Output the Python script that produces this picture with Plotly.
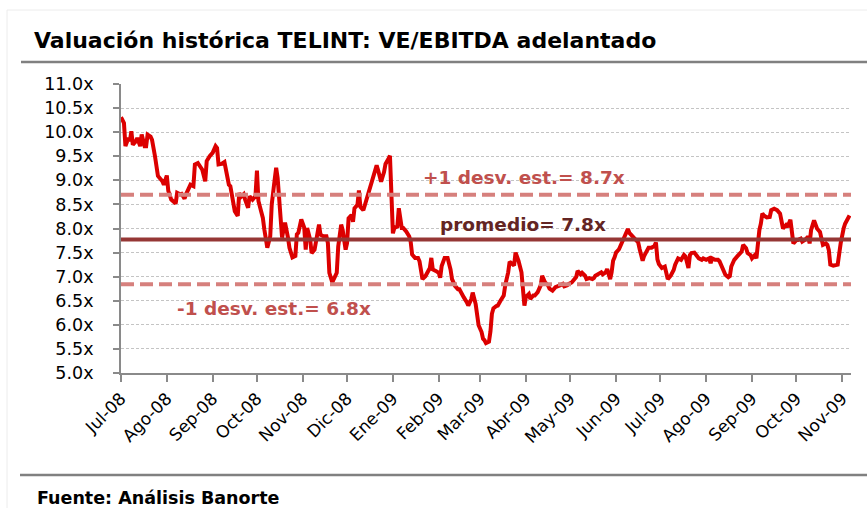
import plotly.graph_objects as go

# Forward EV/EBITDA multiple for TELINT, Jul-2008 .. Nov-2009
dates = [
    "2008-07-01", "2008-07-03", "2008-07-04", "2008-07-06", "2008-07-07", "2008-07-08", "2008-07-09",
    "2008-07-11", "2008-07-12", "2008-07-14", "2008-07-15", "2008-07-17", "2008-07-18", "2008-07-19",
    "2008-07-21", "2008-07-22", "2008-07-24", "2008-07-25", "2008-07-26", "2008-07-29", "2008-07-30",
    "2008-08-01", "2008-08-02", "2008-08-04", "2008-08-07", "2008-08-08", "2008-08-10", "2008-08-11",
    "2008-08-13", "2008-08-14", "2008-08-16", "2008-08-17", "2008-08-19", "2008-08-20", "2008-08-22",
    "2008-08-24", "2008-08-25", "2008-08-27", "2008-08-28", "2008-08-30",
    "2008-09-01", "2008-09-03", "2008-09-04", "2008-09-05", "2008-09-07", "2008-09-09", "2008-09-11",
    "2008-09-12", "2008-09-13", "2008-09-15", "2008-09-16", "2008-09-18", "2008-09-19", "2008-09-20",
    "2008-09-22", "2008-09-23", "2008-09-25", "2008-09-26", "2008-09-28", "2008-09-30",
    "2008-10-01", "2008-10-02", "2008-10-03", "2008-10-05", "2008-10-06", "2008-10-08", "2008-10-10",
    "2008-10-11", "2008-10-13", "2008-10-14", "2008-10-15", "2008-10-17", "2008-10-18", "2008-10-19",
    "2008-10-20", "2008-10-22", "2008-10-23", "2008-10-25", "2008-10-27", "2008-10-28", "2008-10-29",
    "2008-10-31",
    "2008-11-02", "2008-11-03", "2008-11-04", "2008-11-06", "2008-11-07", "2008-11-09", "2008-11-10",
    "2008-11-12", "2008-11-13", "2008-11-15", "2008-11-17", "2008-11-18", "2008-11-19", "2008-11-21",
    "2008-11-22", "2008-11-24", "2008-11-25", "2008-11-27", "2008-11-28", "2008-11-30",
    "2008-12-01", "2008-12-02", "2008-12-04", "2008-12-05", "2008-12-06", "2008-12-08", "2008-12-09",
    "2008-12-10", "2008-12-12", "2008-12-14", "2008-12-15", "2008-12-17", "2008-12-19", "2008-12-21",
    "2008-12-22", "2008-12-24", "2008-12-26", "2008-12-27", "2008-12-29", "2008-12-30",
    "2009-01-01", "2009-01-02", "2009-01-04", "2009-01-05", "2009-01-07", "2009-01-08", "2009-01-10",
    "2009-01-12", "2009-01-13", "2009-01-14", "2009-01-16", "2009-01-18", "2009-01-19", "2009-01-21",
    "2009-01-23", "2009-01-25", "2009-01-26", "2009-01-27", "2009-01-28", "2009-01-30",
    "2009-02-01", "2009-02-02", "2009-02-03", "2009-02-05", "2009-02-07", "2009-02-09", "2009-02-10",
    "2009-02-12", "2009-02-14", "2009-02-15", "2009-02-17", "2009-02-18", "2009-02-20", "2009-02-21",
    "2009-02-23", "2009-02-24", "2009-02-26", "2009-02-27", "2009-02-28",
    "2009-03-02", "2009-03-03", "2009-03-04", "2009-03-05", "2009-03-07", "2009-03-08", "2009-03-09",
    "2009-03-10", "2009-03-12", "2009-03-13", "2009-03-15", "2009-03-17", "2009-03-18", "2009-03-19",
    "2009-03-20", "2009-03-21", "2009-03-22", "2009-03-24", "2009-03-25", "2009-03-27", "2009-03-29",
    "2009-03-30", "2009-03-31",
    "2009-04-01", "2009-04-03", "2009-04-04", "2009-04-06", "2009-04-07", "2009-04-09", "2009-04-11",
    "2009-04-12", "2009-04-14", "2009-04-16", "2009-04-17", "2009-04-19", "2009-04-21", "2009-04-23",
    "2009-04-24", "2009-04-26", "2009-04-27", "2009-04-29", "2009-04-30",
    "2009-05-02", "2009-05-04", "2009-05-05", "2009-05-06", "2009-05-08", "2009-05-09", "2009-05-11",
    "2009-05-12", "2009-05-14", "2009-05-16", "2009-05-17", "2009-05-18", "2009-05-20", "2009-05-22",
    "2009-05-23", "2009-05-25", "2009-05-26", "2009-05-28", "2009-05-29", "2009-05-30", "2009-05-31",
    "2009-06-01", "2009-06-03", "2009-06-04", "2009-06-06", "2009-06-08", "2009-06-09", "2009-06-10",
    "2009-06-12", "2009-06-14", "2009-06-16", "2009-06-17", "2009-06-19", "2009-06-20", "2009-06-22",
    "2009-06-23", "2009-06-25", "2009-06-27", "2009-06-28", "2009-06-29", "2009-06-30",
    "2009-07-02", "2009-07-04", "2009-07-05", "2009-07-06", "2009-07-08", "2009-07-10", "2009-07-11",
    "2009-07-13", "2009-07-15", "2009-07-17", "2009-07-18", "2009-07-20", "2009-07-21", "2009-07-22",
    "2009-07-24", "2009-07-26", "2009-07-27", "2009-07-29", "2009-07-30",
    "2009-08-01", "2009-08-03", "2009-08-04", "2009-08-05", "2009-08-07", "2009-08-09", "2009-08-10",
    "2009-08-11", "2009-08-13", "2009-08-14", "2009-08-16", "2009-08-17", "2009-08-18", "2009-08-20",
    "2009-08-22", "2009-08-23", "2009-08-25", "2009-08-26", "2009-08-28", "2009-08-29", "2009-08-31",
    "2009-09-01", "2009-09-03", "2009-09-04", "2009-09-05", "2009-09-06", "2009-09-07", "2009-09-08",
    "2009-09-09", "2009-09-11", "2009-09-13", "2009-09-14", "2009-09-16", "2009-09-17", "2009-09-18",
    "2009-09-20", "2009-09-21", "2009-09-22", "2009-09-24", "2009-09-25", "2009-09-27", "2009-09-28",
    "2009-09-29",
    "2009-10-01", "2009-10-02", "2009-10-04", "2009-10-05", "2009-10-07", "2009-10-09", "2009-10-10",
    "2009-10-11", "2009-10-13", "2009-10-14", "2009-10-15", "2009-10-17", "2009-10-18", "2009-10-19",
    "2009-10-21", "2009-10-22", "2009-10-23", "2009-10-24", "2009-10-26", "2009-10-28", "2009-10-29",
    "2009-10-31",
    "2009-11-01", "2009-11-02", "2009-11-03", "2009-11-05", "2009-11-06",
]

ev_ebitda = [
    10.31, 10.19, 9.71, 9.88, 9.81, 10.02, 9.74,
    9.81, 9.88, 9.71, 9.95, 9.71, 9.71, 9.95,
    9.91, 9.84, 9.50, 9.19, 9.09, 8.98, 8.91,
    9.10, 8.78, 8.60, 8.52, 8.74, 8.71, 8.72,
    8.62, 8.71, 8.88, 8.91, 8.88, 9.33, 9.36,
    9.26, 9.22, 8.98, 9.40, 9.50,
    9.57, 9.71, 9.67, 9.33, 9.34, 9.38, 9.12,
    8.91, 8.88, 8.57, 8.36, 8.26, 8.74, 8.65,
    8.71, 8.60, 8.43, 8.67, 8.60, 8.67,
    9.20, 8.57, 8.43, 8.22, 7.98, 7.60, 7.84,
    8.50, 9.02, 9.26, 9.05, 8.22, 7.81, 7.98,
    8.12, 7.81, 7.60, 7.40, 7.43, 7.88, 7.91,
    8.19,
    8.02, 7.56, 8.01, 7.77, 7.49, 7.56, 7.77,
    8.08, 7.87, 7.84, 7.84, 7.70, 7.08, 6.88,
    6.95, 7.08, 7.63, 8.08, 7.97, 7.56,
    7.70, 8.21, 8.28, 8.14, 8.42, 8.49, 8.79,
    8.45, 8.38, 8.59, 8.69, 8.93, 9.17, 9.31,
    9.21, 8.97, 9.17, 9.34, 9.45, 9.51,
    7.90, 8.01, 8.04, 8.42, 8.01, 8.01, 7.94,
    7.84, 7.73, 7.46, 7.39, 7.39, 7.32, 6.95,
    7.01, 7.12, 7.18, 7.39, 7.15, 7.12,
    7.08, 6.98, 7.22, 7.39, 7.39, 7.15, 6.95,
    6.81, 6.74, 6.74, 6.60, 6.57, 6.47, 6.40,
    6.53, 6.67, 6.43, 6.16, 5.99,
    5.85, 5.71, 5.68, 5.62, 5.65, 5.86, 6.23,
    6.34, 6.39, 6.40, 6.51, 6.61, 6.82, 6.95,
    7.09, 7.31, 7.29, 7.23, 7.50, 7.33, 7.09,
    6.61, 6.40,
    6.58, 6.64, 6.54, 6.61, 6.61, 6.68, 6.82,
    7.02, 6.88, 6.82, 6.75, 6.71, 6.78, 6.82,
    6.82, 6.85, 6.80, 6.82, 6.85,
    6.88, 6.95, 6.99, 7.12, 7.05, 7.08, 7.02,
    6.95, 6.97, 6.95, 6.97, 7.02, 7.05, 7.09,
    7.05, 7.09, 7.16, 6.95, 7.09, 7.33, 7.40,
    7.50, 7.57, 7.64, 7.77, 7.91, 7.99, 7.91,
    7.84, 7.79, 7.71, 7.57, 7.33, 7.43, 7.57,
    7.60, 7.60, 7.64, 7.71, 7.36, 7.26,
    7.18, 7.21, 7.11, 6.95, 7.02, 7.14, 7.25,
    7.38, 7.35, 7.45, 7.42, 7.18, 7.45, 7.49,
    7.50, 7.42, 7.38, 7.35, 7.38,
    7.35, 7.38, 7.28, 7.38, 7.35, 7.35, 7.32,
    7.25, 7.11, 7.04, 6.99, 7.01, 7.21, 7.35,
    7.42, 7.45, 7.52, 7.66, 7.59, 7.49, 7.45,
    7.38, 7.45, 7.38, 7.76, 7.97, 8.10, 8.31,
    8.27, 8.23, 8.24, 8.38, 8.41, 8.39, 8.38,
    8.31, 8.14, 8.00, 8.07, 8.03, 8.18, 7.90,
    7.69,
    7.76, 7.76, 7.79, 7.73, 7.77, 7.83, 7.69,
    7.97, 8.17, 8.07, 8.00, 7.93, 7.76, 7.66,
    7.69, 7.66, 7.55, 7.25, 7.23, 7.23, 7.25,
    7.69,
    7.90, 8.00, 8.10, 8.21, 8.27,
]

# Period statistics
mean_val = 7.77
std_val = 0.93

# Month ticks
tick_dates = [
    "2008-07-01", "2008-08-01", "2008-09-01", "2008-10-01", "2008-11-01", "2008-12-01",
    "2009-01-01", "2009-02-01", "2009-03-01", "2009-04-01", "2009-05-01", "2009-06-01",
    "2009-07-01", "2009-08-01", "2009-09-01", "2009-10-01", "2009-11-01",
]
tick_labels = [
    "Jul-08", "Ago-08", "Sep-08", "Oct-08", "Nov-08", "Dic-08",
    "Ene-09", "Feb-09", "Mar-09", "Abr-09", "May-09", "Jun-09",
    "Jul-09", "Ago-09", "Sep-09", "Oct-09", "Nov-09",
]
x_range = ["2008-07-01", "2009-11-07"]

W, H = 867, 508
L, R, T, B = 121, 851, 84, 373   # plot area in pixels


def fx(p):
    return (p - L) / (R - L)


def fy(p):
    return (B - p) / (B - T)


FONT = "DejaVu Sans"
SERIES_RED = "#dc0000"
MEAN_COLOR = "#953735"
BAND_COLOR = "#d6807d"
BAND_TEXT = "#c0504d"
AXIS_GRAY = "#8a8a8a"

fig = go.Figure()
fig.add_trace(go.Scatter(
    x=dates, y=ev_ebitda, mode="lines",
    line=dict(color=SERIES_RED, width=4),
    hoverinfo="skip", showlegend=False,
))

# mean and +/- 1 std lines
for val, color, dash in [
    (mean_val + std_val, BAND_COLOR, "13px,6px"),
    (mean_val - std_val, BAND_COLOR, "13px,6px"),
    (mean_val, MEAN_COLOR, "solid"),
]:
    fig.add_shape(type="line", xref="x domain", yref="y", x0=0, x1=1, y0=val, y1=val,
                  line=dict(color=color, width=4, dash=dash), layer="above")

annotations = [
    dict(text=f"+1 desv. est.= {mean_val + std_val:.1f}x", x=fx(524), y=fy(177),
         font=dict(family=FONT, size=18.5, color=BAND_TEXT)),
    dict(text=f"promedio= {mean_val:.1f}x", x=fx(523), y=fy(224),
         font=dict(family=FONT, size=18.5, color="#632523")),
    dict(text=f"-1 desv. est.= {mean_val - std_val:.1f}x", x=fx(274), y=fy(308),
         font=dict(family=FONT, size=18.5, color=BAND_TEXT)),
]
for a in annotations:
    a["text"] = "<b>" + a["text"] + "</b>"
    fig.add_annotation(xref="paper", yref="paper", showarrow=False,
                       xanchor="center", yanchor="middle", **a)

# title and source
fig.add_annotation(text="<b>Valuación histórica TELINT: VE/EBITDA adelantado</b>",
                   xref="paper", yref="paper", x=fx(32), y=fy(40),
                   xanchor="left", yanchor="middle", showarrow=False,
                   font=dict(family=FONT, size=22, color="#000000"))
fig.add_annotation(text="<b>Fuente: Análisis Banorte</b>",
                   xref="paper", yref="paper", x=fx(35), y=fy(498),
                   xanchor="left", yanchor="middle", showarrow=False,
                   font=dict(family=FONT, size=17.5, color="#000000"))

# frame rules
fig.add_shape(type="line", xref="paper", yref="paper", x0=fx(21), x1=fx(867),
              y0=fy(62), y1=fy(62), line=dict(color="#808080", width=2.5))
fig.add_shape(type="line", xref="paper", yref="paper", x0=fx(20), x1=fx(867),
              y0=fy(475), y1=fy(475), line=dict(color="#808080", width=2.5))
fig.add_shape(type="line", xref="paper", yref="paper", x0=fx(7), x1=fx(867),
              y0=fy(10), y1=fy(10), line=dict(color="#ececec", width=1))
fig.add_shape(type="line", xref="paper", yref="paper", x0=fx(7), x1=fx(7),
              y0=fy(10), y1=fy(508), line=dict(color="#ececec", width=1))

fig.update_layout(
    width=W, height=H,
    margin=dict(l=L, r=W - R, t=T, b=H - B, pad=0),
    paper_bgcolor="white", plot_bgcolor="white",
    font=dict(family=FONT, color="#000000"),
    showlegend=False,
)
fig.update_xaxes(
    type="date", range=x_range,
    tickmode="array", tickvals=tick_dates, ticktext=tick_labels,
    tickangle=-45, tickfont=dict(family=FONT, size=17, color="#000000"),
    ticks="outside", ticklen=7, tickwidth=1.5, tickcolor=AXIS_GRAY,
    showline=True, linecolor=AXIS_GRAY, linewidth=2,
    showgrid=False, zeroline=False,
)
fig.update_yaxes(
    range=[5, 11], dtick=0.5, tick0=5, tickformat=".1f", ticksuffix="x",
    tickfont=dict(family=FONT, size=17.5, color="#000000"),
    ticks="outside", ticklen=6, tickwidth=1.5, tickcolor=AXIS_GRAY,
    ticklabelstandoff=16,
    showline=True, linecolor=AXIS_GRAY, linewidth=2,
    showgrid=True, gridcolor="#c4c4c4", gridwidth=1, griddash="3px,2px",
    zeroline=False,
)

fig.write_html("out.html")
